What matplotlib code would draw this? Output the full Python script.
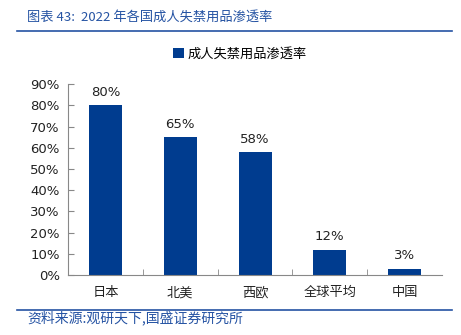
import numpy as np
import matplotlib.pyplot as plt
from matplotlib.lines import Line2D

plt.rcParams['font.family'] = ['DejaVu Sans', 'Noto Sans CJK SC']

categories = ['日本', '北美', '西欧', '全球平均', '中国']
penetration = [0.80, 0.65, 0.58, 0.12, 0.03]
value_labels = ['80%', '65%', '58%', '12%', '3%']
yticks = np.arange(0, 0.91, 0.1)

bar_color = '#003C8F'
accent = '#2553A3'
cjk = ['Noto Sans CJK SC', 'DejaVu Sans']

fig = plt.figure(figsize=(4.61, 3.35), dpi=100)
ax = fig.add_axes([0.1475, 0.179, 0.8115, 0.570])

x = np.arange(len(categories))
ax.bar(x, penetration, width=0.44, color=bar_color, label='成人失禁用品渗透率', zorder=2)
for xi, v, lab in zip(x, penetration, value_labels):
    ax.text(xi, v + 0.03, lab, ha='center', va='bottom', fontsize=9.5, color='#222222')

ax.set_xlim(-0.5, len(categories) - 0.5)
ax.set_ylim(0, 0.9)
ax.set_yticks(yticks)
ax.set_yticklabels([f'{int(round(t * 100))}%' for t in yticks], fontsize=9.5, color='#222222')
ax.set_xticks(x)
ax.set_xticklabels(categories, family=cjk, fontsize=9.5, color='#222222')
ax.tick_params(axis='x', length=0, pad=8)
ax.tick_params(axis='y', direction='in', length=4, color='#888888', pad=6)
# small separators between categories on the x axis
ax.set_xticks(x[:-1] + 0.5, minor=True)
ax.tick_params(axis='x', which='minor', direction='in', length=4, color='#888888')
for side in ['top', 'right']:
    ax.spines[side].set_visible(False)
for side in ['left', 'bottom']:
    ax.spines[side].set_color('#888888')
    ax.spines[side].set_linewidth(0.8)

leg = ax.legend(loc='center', bbox_to_anchor=(0.46, 1.0 + 30 / 191), frameon=False,
                prop={'family': cjk, 'size': 9.5}, handlelength=0.8, handleheight=0.8,
                handletextpad=0.3)

# report header and footer
fig.text(27 / 461, 1 - 17 / 335, '图表 43:  2022 年各国成人失禁用品渗透率', family=cjk,
         fontsize=9.5, color=accent, style='italic', va='center', ha='left')
fig.add_artist(Line2D([17 / 461, 452 / 461], [1 - 31 / 335] * 2, color=accent, lw=1.2))
fig.add_artist(Line2D([17 / 461, 452 / 461], [1 - 310 / 335] * 2, color=accent, lw=1.2))
fig.text(27 / 461, 1 - 318 / 335, '资料来源:观研天下,国盛证券研究所', family=cjk,
         fontsize=10, color=accent, style='italic', va='center', ha='left')

fig.savefig('out.png', dpi=100)
